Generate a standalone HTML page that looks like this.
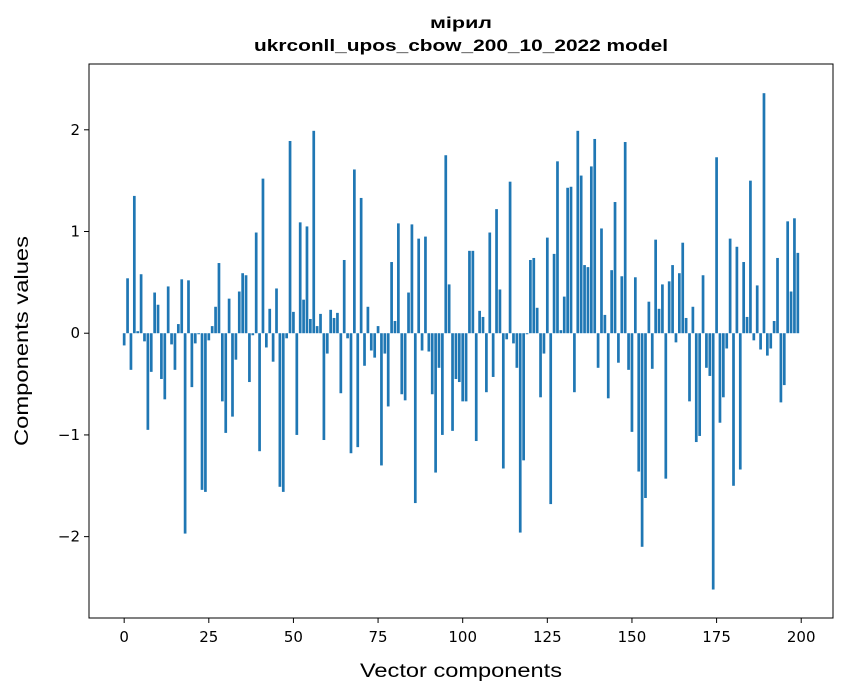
<!DOCTYPE html>
<html><head><meta charset="utf-8"><style>
body{margin:0;background:#fff;}
svg{display:block;font-family:"DejaVu Sans","Liberation Sans",sans-serif;}
</style></head><body>
<svg id="chart" width="847" height="696">
<text x="461" y="28" text-anchor="middle" font-size="16" font-weight="bold" font-family="Liberation Sans, sans-serif" textLength="62" lengthAdjust="spacingAndGlyphs">мірил</text>
<text x="461" y="51" text-anchor="middle" font-size="16.5" font-weight="bold" font-family="Liberation Sans, sans-serif" textLength="414" lengthAdjust="spacingAndGlyphs">ukrconll_upos_cbow_200_10_2022 model</text>
<g id="bars"></g>
<rect x="89" y="64" width="744" height="554" fill="none" stroke="#000" stroke-width="1"/>
<g id="xticks"></g>
<g id="yticks"></g>
<text x="461" y="677" text-anchor="middle" font-size="19" textLength="202" lengthAdjust="spacingAndGlyphs" font-family="Liberation Sans, sans-serif">Vector components</text>
<text transform="translate(28,341) rotate(-90)" text-anchor="middle" font-size="19" textLength="210" lengthAdjust="spacingAndGlyphs" font-family="Liberation Sans, sans-serif">Components values</text>
</svg>
<script>
const values = [-0.12,0.54,-0.36,1.35,0.02,0.58,-0.08,-0.95,-0.38,0.40,
0.28,-0.45,-0.65,0.46,-0.11,-0.36,0.09,0.53,-1.97,0.52,
-0.53,-0.10,-0.01,-1.54,-1.56,-0.07,0.07,0.26,0.69,-0.67,
-0.98,0.34,-0.82,-0.26,0.41,0.59,0.57,-0.48,-0.02,0.99,
-1.16,1.52,-0.14,0.24,-0.28,0.44,-1.51,-1.56,-0.05,1.89,
0.21,-1.0,1.09,0.33,1.05,0.14,1.99,0.07,0.19,-1.05,
-0.20,0.23,0.15,0.20,-0.59,0.72,-0.05,-1.18,1.61,-1.12,
1.33,-0.32,0.26,-0.17,-0.24,0.07,-1.30,-0.20,-0.72,0.70,
0.12,1.08,-0.60,-0.66,0.40,1.07,-1.67,0.93,-0.17,0.95,
-0.18,-0.60,-1.37,-0.34,-1.0,1.75,0.48,-0.96,-0.45,-0.48,
-0.67,-0.67,0.81,0.81,-1.06,0.22,0.16,-0.58,0.99,-0.43,
1.22,0.43,-1.33,-0.06,1.49,-0.10,-0.34,-1.96,-1.25,-0.01,
0.72,0.74,0.25,-0.63,-0.20,0.94,-1.68,0.78,1.69,0.03,
0.36,1.43,1.44,-0.58,1.99,1.55,0.67,0.65,1.64,1.91,
-0.34,1.03,0.18,-0.64,0.62,1.29,-0.29,0.56,1.88,-0.36,
-0.97,0.55,-1.36,-2.10,-1.62,0.31,-0.35,0.92,0.24,0.48,
-1.43,0.51,0.67,-0.09,0.59,0.89,0.15,-0.67,0.26,-1.07,
-1.01,0.57,-0.34,-0.42,-2.52,1.73,-0.88,-0.63,-0.15,0.93,
-1.50,0.85,-1.34,0.70,0.16,1.50,-0.07,0.47,-0.16,2.36,
-0.22,-0.15,0.12,0.74,-0.68,-0.51,1.10,0.41,1.13,0.79];
const xTicks = [0,25,50,75,100,125,150,175,200];
const yTicks = [-2,-1,0,1,2];
const yTickLabels = ["\u22122","\u22121","0","1","2"];

const NS="http://www.w3.org/2000/svg";
const L=89,R=833,T=64,B=618;
const xmin=-10.39,xmax=209.39,ymin=-2.80,ymax=2.647;
function xs(v){return L+(v-xmin)/(xmax-xmin)*(R-L);}
function ys(v){return B-(v-ymin)/(ymax-ymin)*(B-T);}
const bars=document.getElementById('bars');
values.forEach((v,i)=>{
  const r=document.createElementNS(NS,'rect');
  const x0=xs(i-0.4),x1=xs(i+0.4);
  const y0=ys(Math.max(v,0)),y1=ys(Math.min(v,0));
  r.setAttribute('x',x0);r.setAttribute('width',x1-x0);
  r.setAttribute('y',y0);r.setAttribute('height',Math.max(y1-y0,0.3));
  r.setAttribute('fill','#1f77b4');
  
  
  bars.appendChild(r);
});
const xg=document.getElementById('xticks');
xTicks.forEach(t=>{
  const x=xs(t);
  const l=document.createElementNS(NS,'line');
  l.setAttribute('x1',x);l.setAttribute('x2',x);l.setAttribute('y1',B);l.setAttribute('y2',B+5);
  l.setAttribute('stroke','#000');
  
  
  xg.appendChild(l);
  const tx=document.createElementNS(NS,'text');
  tx.setAttribute('x',x);tx.setAttribute('y',B+24);tx.setAttribute('text-anchor','middle');tx.setAttribute('font-size','15');
  tx.textContent=t;
  
  
  xg.appendChild(tx);
});
const yg=document.getElementById('yticks');
yTicks.forEach((t,i)=>{
  const y=ys(t);
  const l=document.createElementNS(NS,'line');
  l.setAttribute('x1',L-5);l.setAttribute('x2',L);l.setAttribute('y1',y);l.setAttribute('y2',y);
  l.setAttribute('stroke','#000');
  
  
  yg.appendChild(l);
  const tx=document.createElementNS(NS,'text');
  tx.setAttribute('x',L-9);tx.setAttribute('y',y+5);tx.setAttribute('text-anchor','end');tx.setAttribute('font-size','15');
  tx.textContent=yTickLabels[i];
  
  
  yg.appendChild(tx);
});
</script>
</body></html>
